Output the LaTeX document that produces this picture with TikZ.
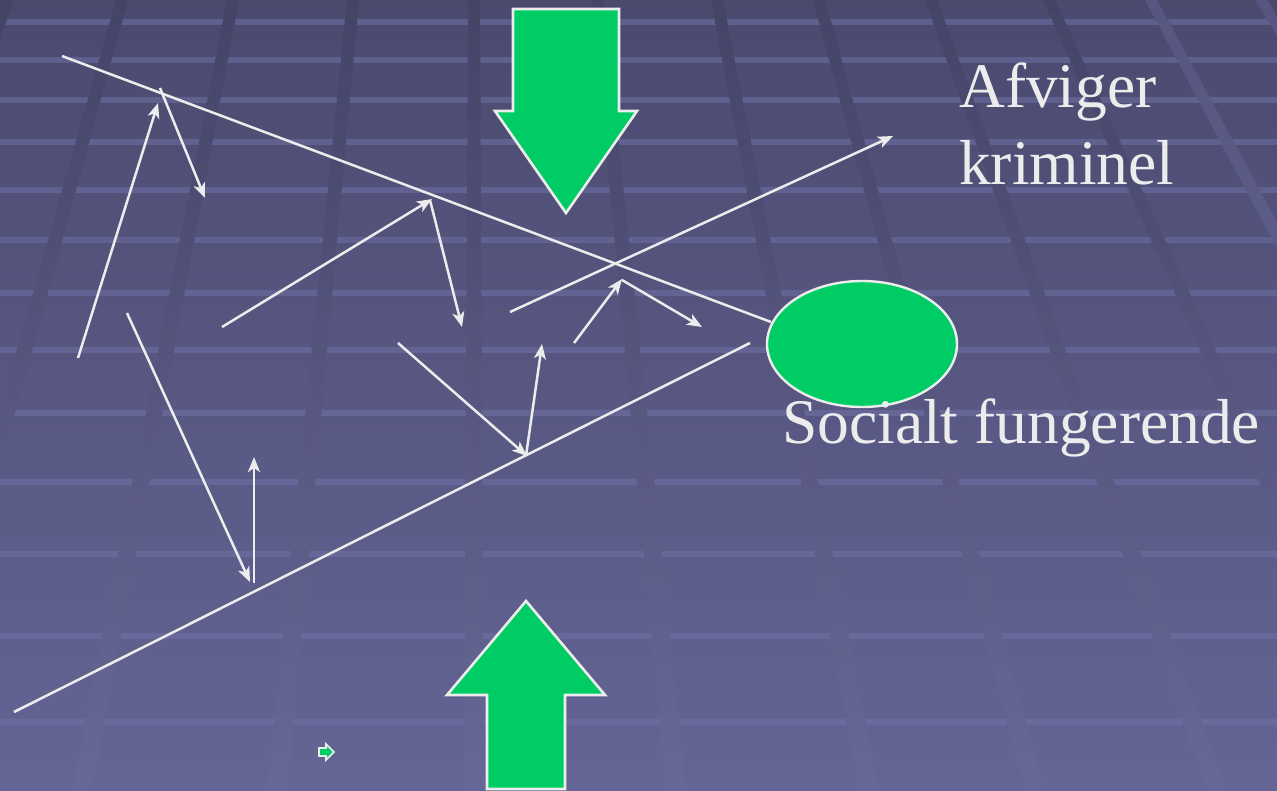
\documentclass[tikz,border=0pt]{standalone}
\usepackage{fontspec}
\setmainfont{Liberation Serif}
\usetikzlibrary{arrows.meta,shapes.geometric}
\definecolor{bgtop}{RGB}{74,74,111}
\definecolor{bgbot}{RGB}{101,101,150}
\definecolor{bandtop}{RGB}{68,68,103}
\definecolor{bandbot}{RGB}{104,104,152}
\definecolor{bandrtop}{RGB}{86,86,128}
\definecolor{bandrbot}{RGB}{106,106,154}
\definecolor{hline}{RGB}{112,112,166}
\definecolor{wcol}{RGB}{236,236,236}
\definecolor{grn}{RGB}{0,204,102}
\begin{document}
\begin{tikzpicture}[x=1pt,y=-1pt,
  wline/.style={draw=wcol,line width=2.5pt},
  warrow/.style={wline,-{Stealth[length=15pt,width=12pt,inset=4pt]}},
  bigarrow/.style={fill=grn,draw=wcol,line width=2.6pt,line join=miter},
  lbl/.style={text=wcol,inner sep=0pt,font=\fontsize{63.5}{77}\selectfont}]
\useasboundingbox (0,0) rectangle (1277,790);
\clip (0,0) rectangle (1277,790);
% background
\shade[top color=bgtop,bottom color=bgbot] (0,0) rectangle (1277,790);
\foreach \y in {22,60,100,142,190,240,293,350,413,482,554,636,722}
  \fill[hline,opacity=0.55] (0,\y-3) rectangle (1277,\y+3);
\foreach \t/\b in {8/-283,122/-98,233/82,353/277,474/474,598/676,717/869,819/1035,931/1217,1049/1408}
  \shade[top color=bandtop,bottom color=bandbot] (\t-6,0) -- (\t+6,0) -- (\b+10,790) -- (\b-10,790) -- cycle;
\foreach \t/\b in {1151/1574,1261/1753}
  \shade[top color=bandrtop,bottom color=bandrbot] (\t-6,0) -- (\t+6,0) -- (\b+10,790) -- (\b-10,790) -- cycle;

% coordinates
\coordinate (u0) at (62,56);   \coordinate (u1) at (771,322);
\coordinate (l0) at (14,712);  \coordinate (l1) at (750,343);
\coordinate (a1s) at (78,358);  \coordinate (a1e) at (158,103);
\coordinate (a2s) at (160,88);  \coordinate (a2e) at (205,198);
\coordinate (a3s) at (127,313); \coordinate (a3e) at (250,582);
\coordinate (a4s) at (254,583); \coordinate (a4e) at (254,457);
\coordinate (a5s) at (222,327); \coordinate (a5e) at (432,199);
\coordinate (a6s) at (430,200); \coordinate (a6e) at (462,327);
\coordinate (a7s) at (510,312); \coordinate (a7e) at (893,136);
\coordinate (a8s) at (574,343); \coordinate (a8e) at (622,279);
\coordinate (a9s) at (622,280); \coordinate (a9e) at (702,327);
\coordinate (a10s) at (398,343); \coordinate (a10e) at (527,456);
\coordinate (a11s) at (526,456); \coordinate (a11e) at (542,344);

% lines
\draw[wline] (u0) -- (u1);
\draw[wline] (l0) -- (l1);
\foreach \i in {1,...,11}
  \draw[warrow] (a\i s) -- (a\i e);

% ellipse
\node[ellipse,fill=grn,draw=wcol,line width=2.4pt,minimum width=190pt,minimum height=126pt,inner sep=0pt] (oval) at (862,344) {};

% big arrows
\draw[bigarrow] (513,9) -- (619,9) -- (619,111) -- (637,111) -- (566,213) -- (495,111) -- (513,111) -- cycle;
\draw[bigarrow] (526,601) -- (605,695) -- (565,695) -- (565,789) -- (487,789) -- (487,695) -- (447,695) -- cycle;

% small bullet icon
\draw[fill=grn,draw=wcol,line width=1.6pt,line join=miter] (319,748) -- (326,748) -- (326,744) -- (334,752) -- (326,760) -- (326,756) -- (319,756) -- cycle;

% labels
\node[lbl,anchor=base west] (afv) at (959,107) {Afviger};
\node[lbl,anchor=base west] (krim) at (959,184) {kriminel};
\node[lbl,anchor=base west] (soc) at (782,443) {Socialt fungerende};
\end{tikzpicture}
\end{document}
